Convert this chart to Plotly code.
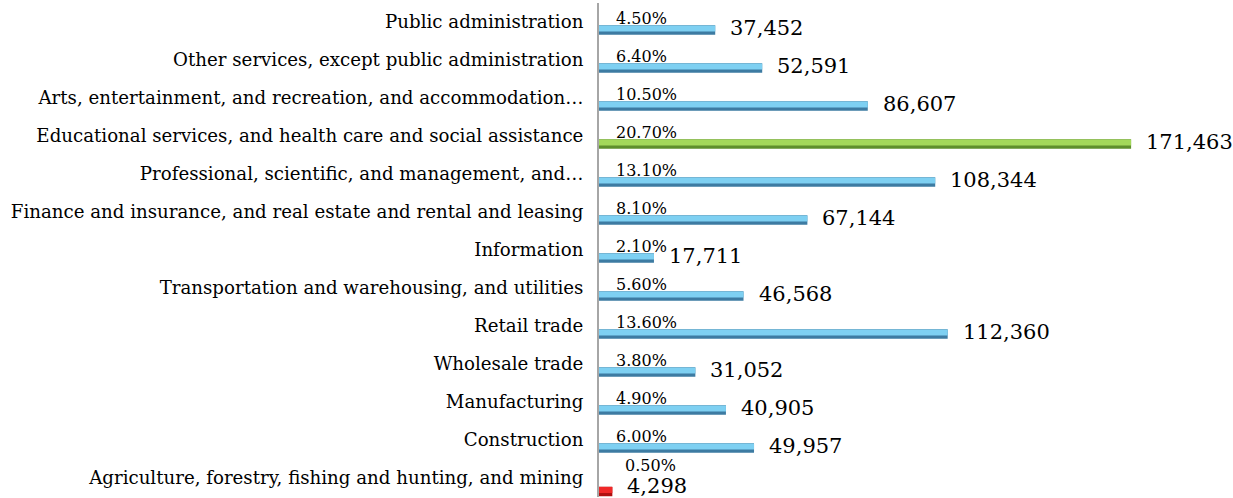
"Employment by industry - horizontal bar chart"

import plotly.graph_objects as go

industries = [
    "Public administration",
    "Other services, except public administration",
    "Arts, entertainment, and recreation, and accommodation…",
    "Educational services, and health care and social assistance",
    "Professional, scientific, and management, and…",
    "Finance and insurance, and real estate and rental and leasing",
    "Information",
    "Transportation and warehousing, and utilities",
    "Retail trade",
    "Wholesale trade",
    "Manufacturing",
    "Construction",
    "Agriculture, forestry, fishing and hunting, and mining",
]
employed = [37452, 52591, 86607, 171463, 108344, 67144, 17711,
            46568, 112360, 31052, 40905, 49957, 4298]
share_pct = ["4.50%", "6.40%", "10.50%", "20.70%", "13.10%", "8.10%", "2.10%",
             "5.60%", "13.60%", "3.80%", "4.90%", "6.00%", "0.50%"]

FONT = "DejaVu Serif, serif"


def bar_colors(values):
    """Green for the largest industry, red for the smallest, blue otherwise."""
    dark, light = [], []
    for v in values:
        if v == max(values):
            dark.append("#5e8f2c"); light.append("#a3d85a")
        elif v == min(values):
            dark.append("#b01010"); light.append("#f02828")
        else:
            dark.append("#3d7ba2"); light.append("#7ed0f2")
    return dark, light


dark, light = bar_colors(employed)
# the smallest bar sits a little lower in the original
is_tiny = [v == min(employed) for v in employed]
body_offset = [0.23 if t else 0.085 for t in is_tiny]
face_offset = [0.235 if t else 0.09 for t in is_tiny]

fig = go.Figure()
# darker body (bottom shading of the cylinder look)
fig.add_trace(go.Bar(
    x=employed, y=industries, orientation="h",
    width=0.25, offset=body_offset,
    marker=dict(color=dark, line=dict(width=0)),
    hoverinfo="skip", showlegend=False,
))
# lighter face on top
fig.add_trace(go.Bar(
    x=employed, y=industries, orientation="h",
    width=0.16, offset=face_offset,
    marker=dict(color=light, line=dict(width=0)),
    showlegend=False,
))

for name, v, pct, tiny in zip(industries, employed, share_pct, is_tiny):
    fig.add_annotation(
        x=0, y=name, xref="x", yref="y", text=pct, showarrow=False,
        xanchor="left", yanchor="middle",
        xshift=24 if tiny else 15, yshift=13 if tiny else 4,
        font=dict(family=FONT, size=16, color="#000000"),
    )
    fig.add_annotation(
        x=v, y=name, xref="x", yref="y", text=f"{v:,}", showarrow=False,
        xanchor="left", yanchor="middle", xshift=13, yshift=-8 if tiny else -6,
        font=dict(family=FONT, size=21, color="#000000"),
    )

fig.update_layout(
    width=1233, height=498,
    margin=dict(l=599, r=0, t=3, b=1),
    paper_bgcolor="white", plot_bgcolor="white",
    barmode="overlay",
    font=dict(family=FONT, color="#000000"),
)
fig.update_xaxes(range=[0, 204300], visible=False, showgrid=False, zeroline=False)
fig.update_yaxes(
    range=[len(industries) - 0.5, -0.5], showgrid=False, zeroline=False,
    showline=True, linecolor="#a6a6a6", linewidth=2,
    ticks="", ticklabelstandoff=10,
    tickfont=dict(family=FONT, size=18.2, color="#000000"),
)

fig.write_html("out.html", config={"displayModeBar": False},
               post_script="document.body.style.margin='0';")
